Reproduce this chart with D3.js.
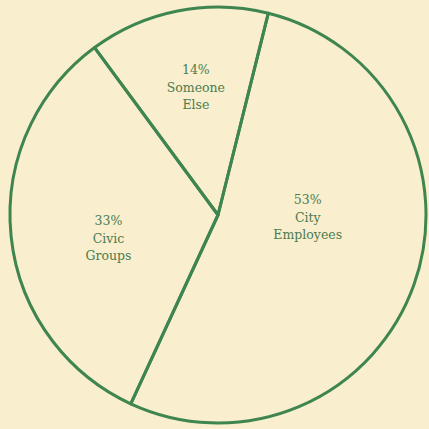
<!DOCTYPE html>
<meta charset="utf-8">
<script src="https://d3js.org/d3.v7.min.js"></script>
<style>
  html, body { margin: 0; padding: 0; background: #f9eecd; }
</style>
<div id="chart"></div>
<script>
  // slice data, clockwise from the top
  const groups = ["City Employees", "Civic Groups", "Someone Else"];
  const shares = [53, 33, 14];
  const labelLines = [["53%", "City", "Employees"], ["33%", "Civic", "Groups"], ["14%", "Someone", "Else"]];

  const width = 429, height = 429;
  const cx = 218, cy = 215, radius = 208;
  const green = "#3f8550";

  const svg = d3.select("#chart").append("svg")
      .attr("width", width)
      .attr("height", height)
      .style("display", "block");

  svg.append("rect")
      .attr("width", width).attr("height", height)
      .attr("fill", "#f9eecd");

  const g = svg.append("g").attr("transform", `translate(${cx},${cy})`);

  const start = 14 * Math.PI / 180;
  const pie = d3.pie().sort(null).value(d => d)
      .startAngle(start).endAngle(start + 2 * Math.PI);
  const arcs = pie(shares);

  const arc = d3.arc().innerRadius(0).outerRadius(radius);

  g.selectAll("path.slice")
    .data(arcs)
    .join("path")
      .attr("class", "slice")
      .attr("d", arc)
      .attr("fill", "none")
      .attr("stroke", green)
      .attr("stroke-width", 3)
      .attr("stroke-linejoin", "round");

  // where the middle line of each label sits: angle shift (deg) from slice middle, and radius
  const labelShift = [-15, -8.5, 1];
  const labelDist = [90, 113, 125];
  const lineH = 17.5;
  arcs.forEach((a, i) => {
    const mid = (a.startAngle + a.endAngle) / 2 + labelShift[i] * Math.PI / 180;
    const r = labelDist[i];
    const x = Math.sin(mid) * r;
    const y = -Math.cos(mid) * r;
    const t = g.append("text")
        .attr("text-anchor", "middle")
        .attr("font-family", "'DejaVu Serif', serif")
        .attr("font-size", 12.5)
        .attr("fill", "#4c7c4f");
    labelLines[i].forEach((s, k) => {
      t.append("tspan")
        .attr("x", x)
        .attr("y", y + (k - 1) * lineH)
        .text(s);
    });
  });
</script>
